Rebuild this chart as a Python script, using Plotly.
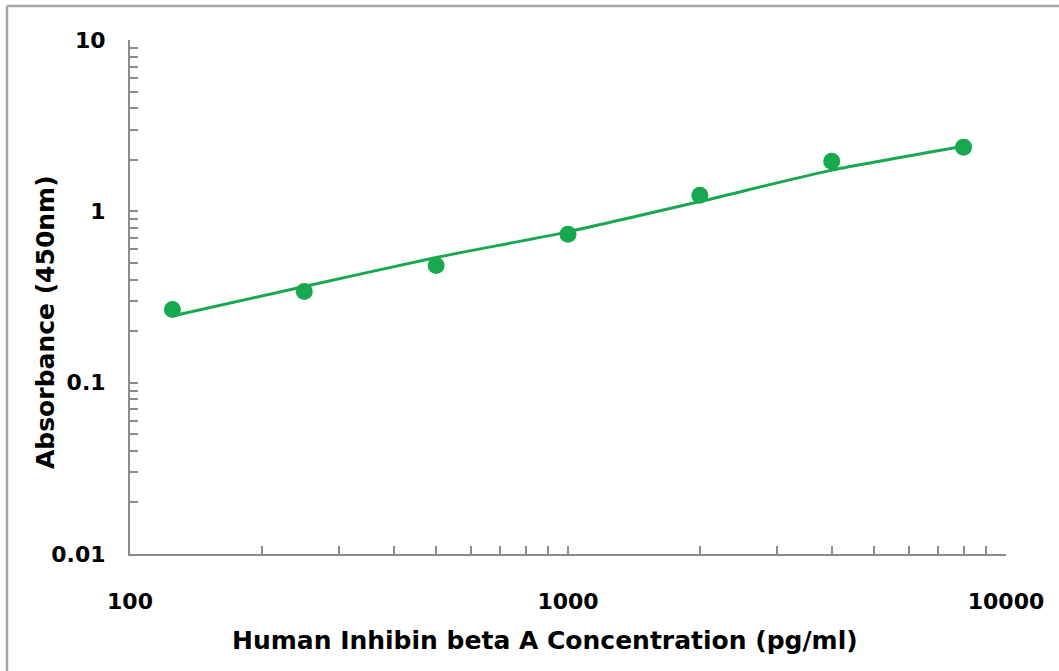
import plotly.graph_objects as go

# Data
concentration = [125, 250, 500, 1000, 2000, 4000, 8000]
absorbance = [0.267, 0.340, 0.483, 0.734, 1.24, 1.96, 2.37]
fit_absorbance = [0.245, 0.364, 0.538, 0.759, 1.14, 1.74, 2.40]

x_tickvals = [100, 1000, 10000]
x_ticktext = ["100", "1000", "10000"]
y_tickvals = [0.01, 0.1, 1, 10]
y_ticktext = ["0.01", "0.1", "1", "10"]

x_minor = [m * d for d in (100, 1000) for m in range(2, 10)]
y_minor = [m * d for d in (0.01, 0.1, 1) for m in range(2, 10)]

GREEN = "#18a84f"
AXIS = "#8c8c8c"
FONT = "DejaVu Sans"

fig = go.Figure()
fig.add_trace(go.Scatter(
    x=concentration, y=fit_absorbance, mode="lines",
    line=dict(color=GREEN, width=3, shape="spline", smoothing=0.6),
    showlegend=False, hoverinfo="skip"))
fig.add_trace(go.Scatter(
    x=concentration, y=absorbance, mode="markers",
    marker=dict(color=GREEN, size=17),
    showlegend=False))

W, H = 1059, 671
L, R, T, B = 130, 53, 40, 117
pw, ph = W - L - R, H - T - B

def px(x):
    return (x - L) / pw

def py(y):
    return (H - B - y) / ph

fig.update_layout(
    width=W, height=H,
    margin=dict(l=L, r=R, t=T, b=B, autoexpand=False),
    paper_bgcolor="white", plot_bgcolor="white",
    font=dict(family=FONT, color="black"),
    xaxis=dict(
        type="log", range=[2, 4],
        tickvals=x_tickvals, ticktext=x_ticktext,
        ticks="inside", ticklen=8, tickwidth=1.5, tickcolor=AXIS,
        minor=dict(tickvals=x_minor, ticks="inside", ticklen=8,
                   tickwidth=1.5, tickcolor=AXIS, showgrid=False),
        showline=True, linecolor=AXIS, linewidth=2,
        showgrid=False, zeroline=False,
        tickfont=dict(family=FONT, size=22, color="black", weight="bold"),
        ticklabelstandoff=27,
    ),
    yaxis=dict(
        type="log", range=[-2, 1],
        tickvals=y_tickvals, ticktext=y_ticktext,
        ticks="inside", ticklen=8, tickwidth=1.5, tickcolor=AXIS,
        minor=dict(tickvals=y_minor, ticks="inside", ticklen=8,
                   tickwidth=1.5, tickcolor=AXIS, showgrid=False),
        showline=True, linecolor=AXIS, linewidth=2,
        showgrid=False, zeroline=False,
        tickfont=dict(family=FONT, size=22, color="black", weight="bold"),
        ticklabelstandoff=18,
    ),
    annotations=[
        dict(text="Human Inhibin beta A Concentration (pg/ml)",
             xref="paper", yref="paper", x=px(545), y=py(640),
             xanchor="center", yanchor="middle", showarrow=False,
             font=dict(family=FONT, size=25, color="black", weight="bold")),
        dict(text="Absorbance (450nm)",
             xref="paper", yref="paper", x=px(45), y=py(322),
             xanchor="center", yanchor="middle", showarrow=False, textangle=-90,
             font=dict(family=FONT, size=25, color="black", weight="bold")),
    ],
    shapes=[
        dict(type="line", xref="paper", yref="paper",
             x0=px(7), x1=px(1070), y0=py(6), y1=py(6),
             line=dict(color="#a6a6a6", width=2.5)),
        dict(type="line", xref="paper", yref="paper",
             x0=px(7), x1=px(7), y0=py(6), y1=py(690),
             line=dict(color="#a6a6a6", width=2.5)),
    ],
)

fig.write_html("out.html",
               config={"displayModeBar": False},
               post_script="document.body.style.margin='0';document.body.style.overflow='hidden';")
